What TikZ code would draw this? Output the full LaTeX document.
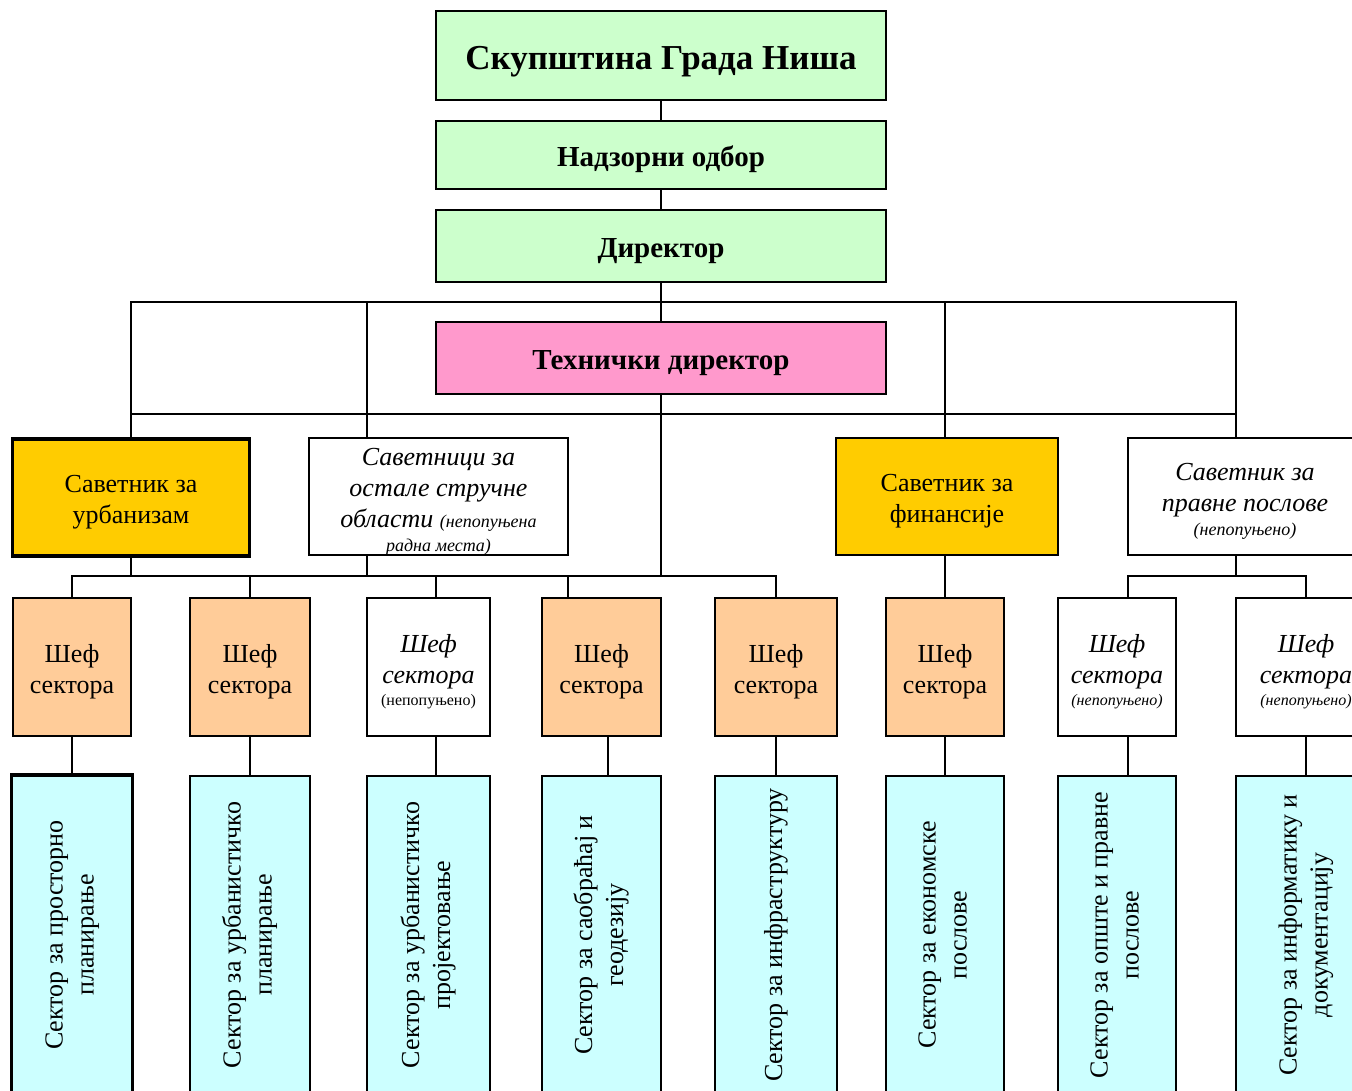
\documentclass[tikz,border=0pt]{standalone}
\usepackage{fontspec}
\setmainfont{Liberation Serif}
\usepackage{graphicx}

\definecolor{headgreen}{HTML}{CCFFCC}
\definecolor{techpink}{HTML}{FF99CC}
\definecolor{advgold}{HTML}{FFCC00}
\definecolor{chiefpeach}{HTML}{FFCC99}
\definecolor{sectorcyan}{HTML}{CCFFFF}

\newcommand*{\smalltxt}{\fontsize{16}{19}\selectfont}
\newcommand*{\notetxt}{\fontsize{18}{21}\selectfont}
\newcommand*{\topstrut}{\rule{0pt}{27pt}}

\begin{document}
\begin{tikzpicture}[x=1pt,y=-1pt,
  unitbox/.style={draw,line width=1.8pt,inner sep=0pt,align=center,font=\fontsize{26}{31}\selectfont},
  headbox/.style={unitbox,fill=headgreen,minimum width=450,font=\fontsize{29}{34}\selectfont\bfseries,
    execute at begin node={\rule{0pt}{30pt}}},
  advbox/.style={unitbox,fill=advgold,minimum height=117},
  emptybox/.style={unitbox,fill=white,font=\fontsize{26}{31}\selectfont\itshape},
  chiefbox/.style={unitbox,fill=chiefpeach,minimum height=138},
  sectorbox/.style={unitbox,fill=sectorcyan,minimum height=318},
  heavy/.style={line width=3.4pt},
  link/.style={line width=1.8pt}]

  \useasboundingbox (0,0) rectangle (1352,1090);

  % top of the chart
  \node [headbox,minimum height=89,font=\fontsize{35}{40}\selectfont\bfseries,
         execute at begin node={\rule{0pt}{36pt}}] (skupstina) at (661,55.5) {Скупштина Града Ниша};
  \node [headbox,minimum height=68] (nadzor) at (661,155) {Надзорни одбор};
  \node [headbox,minimum height=72] (direktor) at (661,246) {Директор};
  \node [headbox,fill=techpink,minimum height=72] (tehdir) at (661,358) {Технички директор};

  % advisers
  \node [advbox,heavy,minimum width=237] (savurb) at (131,497.5) {\topstrut Саветник за\\урбанизам};
  \node [emptybox,minimum width=259,minimum height=117] (savost) at (438.5,496.5)
        {\topstrut Саветници за\\остале стручне\\области {\notetxt (непопуњена}\\[-7pt]{\notetxt радна места)}};
  \node [advbox,minimum width=222] (savfin) at (947,496.5) {\topstrut Саветник за\\финансије};
  \node [emptybox,minimum width=234,minimum height=117] (savprav) at (1245,496.5)
        {\topstrut Саветник за\\правне послове\\[-7pt]{\notetxt (непопуњено)}};

  % heads of sectors
  \node [chiefbox,minimum width=118] (sef1) at (72,667) {\topstrut Шеф\\сектора};
  \node [chiefbox,minimum width=120] (sef2) at (250,667) {\topstrut Шеф\\сектора};
  \node [unitbox,fill=white,minimum width=123,minimum height=138] (sef3) at (428.5,667)
        {\topstrut\textit{Шеф}\\\textit{сектора}\\[-9pt]{\smalltxt (непопуњено)}};
  \node [chiefbox,minimum width=119] (sef4) at (601.5,667) {\topstrut Шеф\\сектора};
  \node [chiefbox,minimum width=122] (sef5) at (776,667) {\topstrut Шеф\\сектора};
  \node [chiefbox,minimum width=118] (sef6) at (945,667) {\topstrut Шеф\\сектора};
  \node [emptybox,minimum width=118,minimum height=138] (sef7) at (1117,667)
        {\topstrut Шеф\\сектора\\[-9pt]{\smalltxt (непопуњено)}};
  \node [emptybox,minimum width=140,minimum height=138] (sef8) at (1306,667)
        {\topstrut Шеф\\сектора\\[-9pt]{\smalltxt (непопуњено)}};

  % sectors
  \foreach \i/\cx/\w/\txt in {1/72/119/{Сектор за просторно\\планирање},
                              2/250/120/{Сектор за урбанистичко\\планирање},
                              3/428.5/123/{Сектор за урбанистичко\\пројектовање},
                              4/601.5/119/{Сектор за саобраћај и\\геодезију},
                              5/776/122/{Сектор за инфраструктуру},
                              6/945/118/{Сектор за економске\\послове},
                              7/1117/118/{Сектор за опште и правне\\послове},
                              8/1306/140/{Сектор за информатику и\\документацију}}
    \node [sectorbox,minimum width=\w] (sek\i) at (\cx,935)
          {\rotatebox{90}{\begin{tabular}{@{}c@{}}\txt\end{tabular}}};
  \draw [heavy] (sek1.south west) rectangle (sek1.north east);

  % connectors
  \coordinate (gornja) at (661,302);
  \coordinate (srednja) at (661,414);
  \coordinate (donja) at (661,576);
  \coordinate (ostgore) at ([xshift=-71.5]savost.north);
  \coordinate (ostdole) at ([xshift=-71.5]savost.south);
  \coordinate (fingore) at (sef6.north |- savfin.north);
  \coordinate (pravgore) at ([xshift=-9]savprav.north);
  \coordinate (pravdole) at ([xshift=-9]savprav.south);
  \coordinate (desna) at (pravdole |- donja);
  \coordinate (s3gore) at ([xshift=7.5]sef3.north);
  \coordinate (s4gore) at ([xshift=-33.5]sef4.north);
  \coordinate (s7gore) at ([xshift=11]sef7.north);

  \draw [link] (skupstina) -- (nadzor);
  \draw [link] (nadzor) -- (direktor);
  \draw [link] (direktor) -- (tehdir);
  \draw [link] (savurb.north) |- (gornja) -| (pravgore);
  \draw [link] (savurb.north |- srednja) -- (pravgore |- srednja);
  \draw [link] (ostgore) -- (ostgore |- gornja);
  \draw [link] (fingore) -- (fingore |- gornja);
  \draw [link] (tehdir) -- (donja);
  \draw [link] (sef1.north) |- (donja) -| (sef5.north);
  \draw [link] (savurb.south) -- (savurb.south |- donja);
  \draw [link] (ostdole) -- (ostdole |- donja);
  \draw [link] (sef2.north) -- (sef2.north |- donja);
  \draw [link] (s3gore) -- (s3gore |- donja);
  \draw [link] (s4gore) -- (s4gore |- donja);
  \draw [link] (sef6.north) -- (sef6.north |- savfin.south);
  \draw [link] (pravdole) -- (desna);
  \draw [link] (s7gore) |- (desna) -| (sef8.north);

  \foreach \i/\dx in {1/0,2/0,3/7.5,4/6.5,5/0,6/0,7/11,8/0}
    \draw [link] ([xshift=\dx]sef\i.south) -- ([xshift=\dx]sek\i.north);

\end{tikzpicture}
\end{document}
